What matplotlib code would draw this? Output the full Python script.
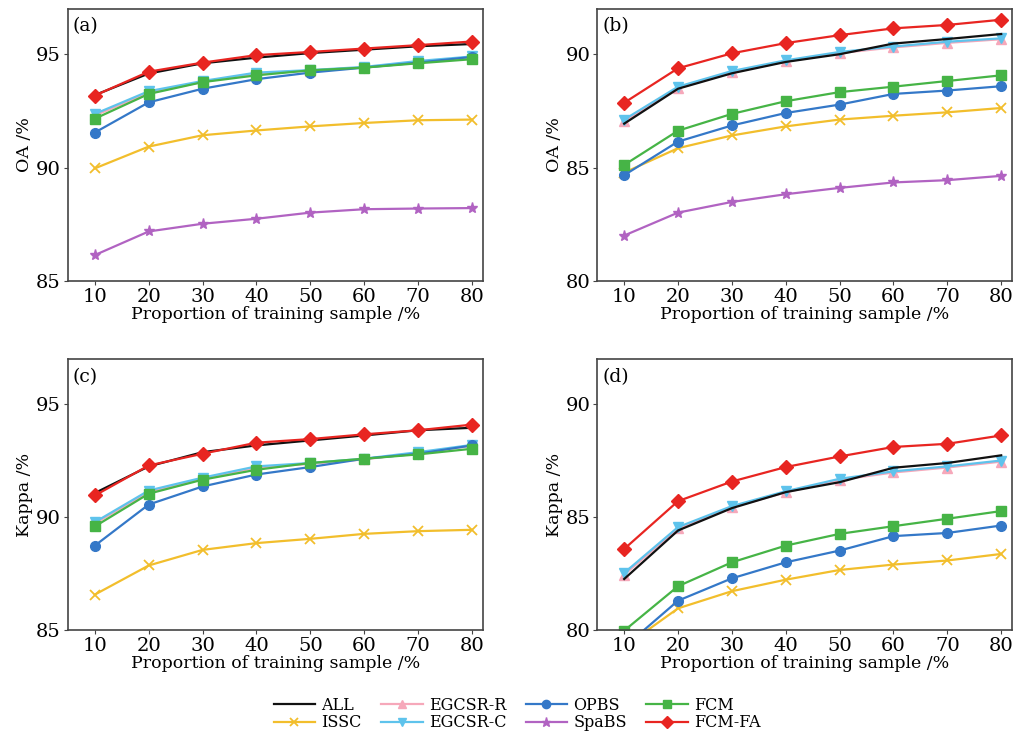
import matplotlib
matplotlib.use("Agg")
import matplotlib.pyplot as plt
import numpy as np

plt.rcParams['font.family'] = ['DejaVu Serif']
plt.rcParams['mathtext.fontset'] = 'dejavuserif'

# training proportion (%)
x = [10, 20, 30, 40, 50, 60, 70, 80]

methods = ["ALL", "ISSC", "EGCSR-R", "EGCSR-C", "OPBS", "SpaBS", "FCM", "FCM-FA"]

# panel (a): OA
oa_a = {
    "ALL":     [93.20, 94.15, 94.60, 94.85, 95.05, 95.20, 95.35, 95.45],
    "ISSC":    [89.97, 90.93, 91.43, 91.64, 91.82, 91.97, 92.09, 92.12],
    "EGCSR-R": [92.30, 93.30, 93.78, 94.15, 94.28, 94.42, 94.66, 94.86],
    "EGCSR-C": [92.37, 93.37, 93.82, 94.19, 94.30, 94.44, 94.70, 94.90],
    "OPBS":    [91.55, 92.88, 93.48, 93.90, 94.19, 94.41, 94.63, 94.88],
    "SpaBS":   [86.15, 87.19, 87.53, 87.75, 88.02, 88.17, 88.20, 88.22],
    "FCM":     [92.16, 93.25, 93.77, 94.07, 94.29, 94.41, 94.60, 94.78],
    "FCM-FA":  [93.18, 94.23, 94.63, 94.96, 95.10, 95.25, 95.40, 95.56],
}

# panel (b): OA
oa_b = {
    "ALL":     [86.94, 88.48, 89.16, 89.66, 90.00, 90.47, 90.67, 90.89],
    "ISSC":    [84.78, 85.86, 86.42, 86.82, 87.12, 87.29, 87.44, 87.63],
    "EGCSR-R": [87.05, 88.50, 89.20, 89.68, 90.05, 90.30, 90.50, 90.66],
    "EGCSR-C": [87.12, 88.57, 89.26, 89.73, 90.10, 90.34, 90.55, 90.70],
    "OPBS":    [84.67, 86.15, 86.86, 87.41, 87.78, 88.25, 88.40, 88.59],
    "SpaBS":   [82.01, 83.02, 83.49, 83.83, 84.11, 84.35, 84.45, 84.64],
    "FCM":     [85.12, 86.63, 87.37, 87.93, 88.33, 88.57, 88.82, 89.07],
    "FCM-FA":  [87.86, 89.38, 90.04, 90.49, 90.84, 91.14, 91.29, 91.52],
}

# panel (c): Kappa
kappa_c = {
    "ALL":     [91.07, 92.25, 92.88, 93.18, 93.40, 93.62, 93.85, 93.96],
    "ISSC":    [86.57, 87.86, 88.55, 88.85, 89.04, 89.26, 89.38, 89.44],
    "EGCSR-R": [89.72, 91.12, 91.70, 92.20, 92.36, 92.56, 92.84, 93.16],
    "EGCSR-C": [89.78, 91.18, 91.75, 92.25, 92.40, 92.59, 92.88, 93.20],
    "OPBS":    [88.74, 90.56, 91.36, 91.89, 92.22, 92.59, 92.81, 93.18],
    "FCM":     [89.59, 91.04, 91.66, 92.10, 92.40, 92.59, 92.78, 93.03],
    "FCM-FA":  [90.96, 92.29, 92.81, 93.30, 93.46, 93.67, 93.85, 94.10],
}

# panel (d): Kappa
kappa_d = {
    "ALL":     [82.26, 84.41, 85.40, 86.11, 86.55, 87.19, 87.40, 87.74],
    "ISSC":    [79.25, 80.96, 81.72, 82.23, 82.66, 82.90, 83.08, 83.37],
    "EGCSR-R": [82.45, 84.50, 85.44, 86.10, 86.65, 86.98, 87.20, 87.46],
    "EGCSR-C": [82.53, 84.56, 85.49, 86.15, 86.70, 87.03, 87.25, 87.51],
    "OPBS":    [79.24, 81.30, 82.29, 83.00, 83.52, 84.16, 84.30, 84.63],
    "FCM":     [79.97, 81.94, 83.00, 83.74, 84.26, 84.60, 84.93, 85.27],
    "FCM-FA":  [83.59, 85.71, 86.58, 87.22, 87.69, 88.11, 88.25, 88.62],
}

style = {
    "ALL":     dict(color="#111111", marker=None),
    "ISSC":    dict(color="#F2BE2C", marker="x", ms=6.5, mew=1.3),
    "EGCSR-R": dict(color="#F6A8BA", marker="^", ms=7.5),
    "EGCSR-C": dict(color="#5EC3EC", marker="v", ms=7.5),
    "OPBS":    dict(color="#3478C8", marker="o", ms=7),
    "SpaBS":   dict(color="#B163C2", marker="*", ms=8),
    "FCM":     dict(color="#46B446", marker="s", ms=7),
    "FCM-FA":  dict(color="#E82521", marker="D", ms=7),
}
# drawing order (ALL over EGCSR curves, FCM-FA on top)
order = ["ISSC", "EGCSR-R", "EGCSR-C", "ALL", "OPBS", "SpaBS", "FCM", "FCM-FA"]

fig = plt.figure(figsize=(10.14, 7.36), dpi=100)
panels = [
    ([0.067, 0.618, 0.409, 0.370], oa_a, (85, 97), [85, 90, 95], "OA /%", "(a)"),
    ([0.589, 0.618, 0.409, 0.370], oa_b, (80, 92), [80, 85, 90], "OA /%", "(b)"),
    ([0.067, 0.144, 0.409, 0.368], kappa_c, (85, 97), [85, 90, 95], "Kappa /%", "(c)"),
    ([0.589, 0.144, 0.409, 0.368], kappa_d, (80, 92), [80, 85, 90], "Kappa /%", "(d)"),
]

handles = {}
for rect, data, ylim, yticks, ylab, tag in panels:
    ax = fig.add_axes(rect)
    for m in order:
        if m not in data:
            continue
        st = dict(style[m])
        ln, = ax.plot(x, data[m], lw=1.6, label=m, **st)
        handles[m] = ln
    ax.set_xlim(5, 82)
    ax.set_ylim(*ylim)
    ax.set_xticks(x)
    ax.set_yticks(yticks)
    ax.tick_params(labelsize=14, direction="out", length=3, color="#444444", pad=2)
    ax.set_xlabel("Proportion of training sample /%", fontsize=12.5, labelpad=0)
    ax.set_ylabel(ylab, fontsize=12.5, labelpad=2)
    for s in ax.spines.values():
        s.set_color("#444444")
        s.set_linewidth(1.2)
    ax.text(0.012, 0.935, tag, transform=ax.transAxes, fontsize=13.5, va="center")

fig.legend([handles[m] for m in methods], methods, loc="center", ncol=4,
           bbox_to_anchor=(0.51, 0.03), frameon=False, fontsize=11.5,
           handlelength=2.6, columnspacing=1.2, labelspacing=0.05,
           handletextpad=0.4, borderpad=0.1, markerscale=0.85)

fig.savefig("out.png", dpi=100)
